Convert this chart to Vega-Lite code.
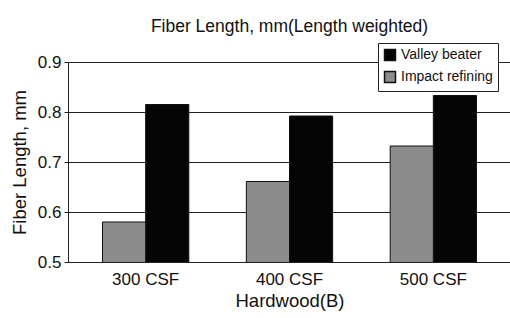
{
  "$schema": "https://vega.github.io/schema/vega-lite/v6.json",
  "width": 443,
  "height": 200,
  "autosize": "none",
  "padding": {"left": 68, "top": 62, "right": 0, "bottom": 56},
  "background": "white",
  "title": {"text": "Fiber Length, mm(Length weighted)", "font": "Liberation Sans", "fontSize": 17.5, "fontWeight": "normal", "color": "#111", "offset": 7, "anchor": "middle"},
  "data": {"values": [
    {"grade": "300 CSF", "method": "Valley beater", "value": 0.815},
    {"grade": "300 CSF", "method": "Impact refining", "value": 0.58},
    {"grade": "400 CSF", "method": "Valley beater", "value": 0.792},
    {"grade": "400 CSF", "method": "Impact refining", "value": 0.661},
    {"grade": "500 CSF", "method": "Valley beater", "value": 0.833},
    {"grade": "500 CSF", "method": "Impact refining", "value": 0.732}
  ]},
  "mark": {"type": "bar", "stroke": "#111", "strokeWidth": 1, "clip": true},
  "encoding": {
    "x": {"field": "grade", "type": "nominal", "scale": {"paddingInner": 0.4, "paddingOuter": 0.24},
      "axis": {"title": "Hardwood(B)", "labelAngle": 0, "ticks": false, "domain": true, "domainColor": "#222", "labelFontSize": 17, "titleFontSize": 18.5, "labelFont": "Liberation Sans", "titleFont": "Liberation Sans", "titleFontWeight": "normal", "labelColor": "#111", "titleColor": "#111", "labelPadding": 9, "titlePadding": 4}},
    "xOffset": {"field": "method", "type": "nominal", "sort": ["Impact refining", "Valley beater"]},
    "y": {"field": "value", "type": "quantitative", "scale": {"domain": [0.5, 0.9], "zero": false},
      "axis": {"title": "Fiber Length, mm", "values": [0.5, 0.6, 0.7, 0.8, 0.9], "format": ".1f", "grid": true, "gridColor": "#222", "gridOpacity": 1, "domainColor": "#222", "tickColor": "#222", "tickSize": 4, "labelPadding": 3, "labelFontSize": 17, "titleFontSize": 18.5, "labelFont": "Liberation Sans", "titleFont": "Liberation Sans", "titleFontWeight": "normal", "labelColor": "#111", "titleColor": "#111", "titlePadding": 8}},
    "color": {"field": "method", "type": "nominal", "sort": ["Valley beater", "Impact refining"],
      "scale": {"domain": ["Valley beater", "Impact refining"], "range": ["#050505", "#8c8c8c"]},
      "legend": {"title": null, "orient": "none", "legendX": 310, "legendY": -19, "symbolType": "square", "symbolSize": 120, "symbolStrokeColor": "#111", "labelFontSize": 14, "labelFont": "Liberation Sans", "labelColor": "#111", "strokeColor": "#222", "fillColor": "white", "padding": 5, "rowPadding": 4}}
  },
  "config": {"view": {"stroke": null}}
}
